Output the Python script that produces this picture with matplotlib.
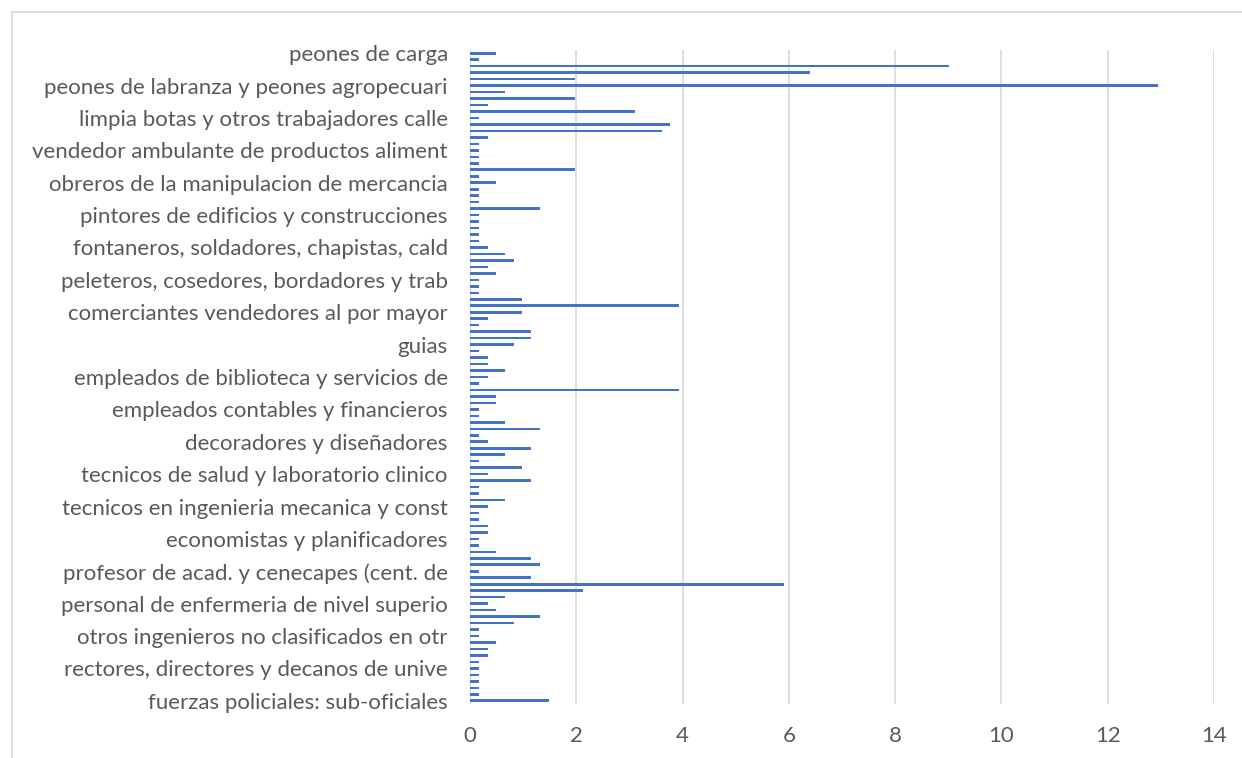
import matplotlib
matplotlib.use('Agg')
import matplotlib.pyplot as plt
from matplotlib.lines import Line2D

# values read top to bottom (percent)
values = [0.49, 0.16, 9.02, 6.39, 1.97, 12.95, 0.66, 1.97, 0.33, 3.11,
          0.16, 3.77, 3.61, 0.33, 0.16, 0.16, 0.16, 0.16, 1.97, 0.16,
          0.49, 0.16, 0.16, 0.16, 1.31, 0.16, 0.16, 0.16, 0.16, 0.16,
          0.33, 0.66, 0.82, 0.33, 0.49, 0.16, 0.16, 0.16, 0.98, 3.93,
          0.98, 0.33, 0.16, 1.15, 1.15, 0.82, 0.16, 0.33, 0.33, 0.66,
          0.33, 0.16, 3.93, 0.49, 0.49, 0.16, 0.16, 0.66, 1.31, 0.16,
          0.33, 1.15, 0.66, 0.16, 0.98, 0.33, 1.15, 0.16, 0.16, 0.66,
          0.33, 0.16, 0.16, 0.33, 0.33, 0.16, 0.16, 0.49, 1.15, 1.31,
          0.16, 1.15, 5.90, 2.13, 0.66, 0.33, 0.49, 1.31, 0.82, 0.16,
          0.16, 0.49, 0.33, 0.33, 0.16, 0.16, 0.16, 0.16, 0.16, 0.16,
          1.48]

# only every 5th category label is shown
shown_labels = ["peones de carga",
                "peones de labranza y peones agropecuari",
                "limpia botas y otros trabajadores calle",
                "vendedor ambulante de productos aliment",
                "obreros de la manipulacion de mercancia",
                "pintores de edificios y construcciones",
                "fontaneros, soldadores, chapistas, cald",
                "peleteros, cosedores, bordadores y trab",
                "comerciantes vendedores al por mayor",
                "guias",
                "empleados de biblioteca y servicios de",
                "empleados contables y financieros",
                "decoradores y diseñadores",
                "tecnicos de salud y laboratorio clinico",
                "tecnicos en ingenieria mecanica y const",
                "economistas y planificadores",
                "profesor de acad. y cenecapes (cent. de",
                "personal de enfermeria de nivel superio",
                "otros ingenieros no clasificados en otr",
                "rectores, directores y decanos de unive",
                "fuerzas policiales: sub-oficiales"]

xticks = [0, 2, 4, 6, 8, 10, 12, 14]

plt.rcParams['font.family'] = ['Lato', 'DejaVu Sans']
txt = '#595959'
grid = '#D9D9D9'

fig = plt.figure(figsize=(12.42, 7.58), dpi=100)
ax = fig.add_axes([470/1242, 1 - 704/758, (1214-470)/1242, (704-50)/758])

pos = list(range(len(values)))
ax.barh(pos, values, height=0.4, color='#4472C4', zorder=3)

ax.set_ylim(len(values) - 0.5, -0.5)
ax.set_xlim(0, 14)
ax.set_xticks(xticks)
ax.set_xticklabels([str(t) for t in xticks])
ax.set_yticks(pos[::5])
ax.set_yticklabels(shown_labels)

ax.grid(axis='x', color=grid, linewidth=1.2, zorder=0)
ax.grid(axis='y', visible=False)
for s in ax.spines.values():
    s.set_visible(False)
ax.tick_params(axis='both', length=0, labelsize=16, colors=txt)
ax.tick_params(axis='y', pad=16)
ax.tick_params(axis='x', pad=16)

# chart border (cropped at right and bottom)
fig.add_artist(Line2D([12/1242, 1.0], [1 - 12/758, 1 - 12/758],
                      color=grid, linewidth=1.2, transform=fig.transFigure))
fig.add_artist(Line2D([12/1242, 12/1242], [0.0, 1 - 12/758],
                      color=grid, linewidth=1.2, transform=fig.transFigure))

fig.savefig('out.png', dpi=100)
